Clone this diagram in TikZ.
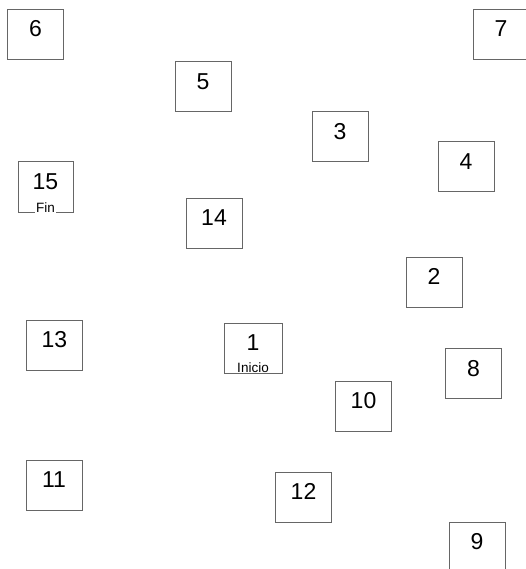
\documentclass[tikz,border=0pt]{standalone}
\usepackage{fontspec}
\setmainfont{Liberation Sans}
\begin{document}
\begin{tikzpicture}[x=1pt,y=-1pt,
  numbox/.style={draw=black!60, line width=1pt, rectangle, minimum width=56pt, minimum height=50pt,
    inner sep=0pt, font=\fontsize{23}{25}\selectfont, text height=16.5pt, text depth=11.5pt},
  sublabel/.style={font=\fontsize{13.5}{15}\selectfont, inner xsep=1pt, inner ysep=1pt, anchor=base}]
\useasboundingbox (0,0) rectangle (525,569);
\node[numbox] (n6) at (35.5,34.5) {6};
\node[numbox] (n7) at (501,34.5) {7};
\node[numbox] (n5) at (203,87) {5};
\node[numbox] (n3) at (340,137) {3};
\node[numbox] (n4) at (466,167) {4};
\node[numbox, minimum width=55pt] (n15) at (45.5,187) {15};
\node[numbox] (n14) at (214,223) {14};
\node[numbox] (n2) at (434,282) {2};
\node[numbox] (n13) at (54.5,345) {13};
\node[numbox, minimum width=58pt] (n1) at (253,348) {1};
\node[numbox] (n8) at (473.5,373.5) {8};
\node[numbox] (n10) at (363.5,406) {10};
\node[numbox] (n11) at (54,485) {11};
\node[numbox] (n12) at (303.5,497) {12};
\node[numbox] (n9) at (477,547) {9};
\node[sublabel, fill=white] (l15) at ([yshift=0.5pt]n15.south) {Fin};
\node[sublabel] (l1) at ([yshift=1.5pt]n1.south) {Inicio};
\end{tikzpicture}
\end{document}
